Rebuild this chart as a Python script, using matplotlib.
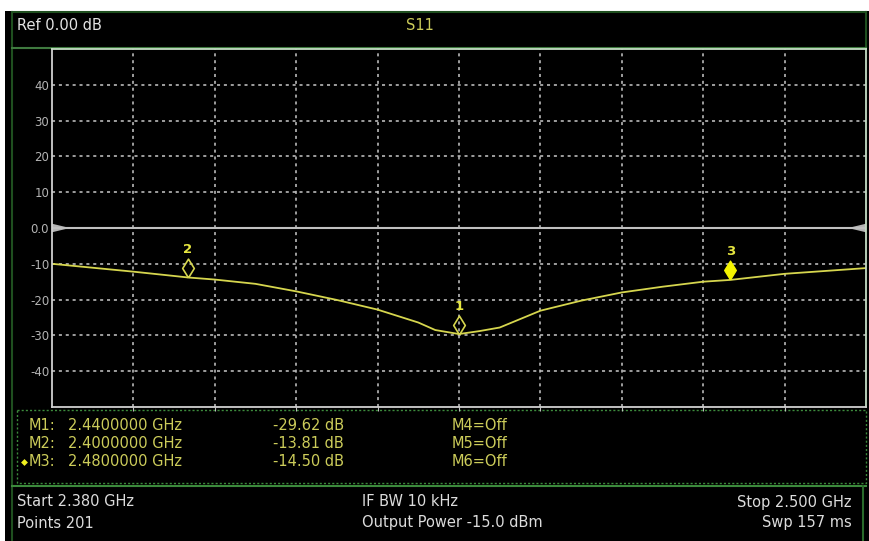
import matplotlib
matplotlib.use("Agg")
import matplotlib.pyplot as plt
from matplotlib.patches import Rectangle, Polygon
from matplotlib.transforms import offset_copy

# trace (GHz, dB)
freq_ghz = [2.380, 2.386, 2.392, 2.398, 2.400, 2.404, 2.410, 2.416, 2.422, 2.428,
            2.434, 2.4365, 2.440, 2.443, 2.446, 2.452, 2.458, 2.464, 2.470, 2.476,
            2.480, 2.488, 2.494, 2.500]
s11_db = [-10.0, -11.1, -12.2, -13.4, -13.81, -14.4, -15.6, -17.7, -20.1, -22.8,
          -26.4, -28.5, -29.62, -28.8, -27.8, -23.1, -20.3, -18.0, -16.4, -15.0,
          -14.50, -12.8, -12.0, -11.2]

marker_ids = ["1", "2", "3"]
marker_freq = [2.440, 2.400, 2.480]
marker_db = [-29.62, -13.81, -14.50]
active_marker = "3"

y_ticks = [40, 30, 20, 10, 0, -10, -20, -30, -40]
y_tick_labels = ["40", "30", "20", "10", "0.0", "-10", "-20", "-30", "-40"]

table_names = ["M1:", "M2:", "M3:"]
table_freq = ["2.4400000 GHz", "2.4000000 GHz", "2.4800000 GHz"]
table_vals = ["-29.62 dB", "-13.81 dB", "-14.50 dB"]
table_off = ["M4=Off", "M5=Off", "M6=Off"]

status_left = ["Start 2.380 GHz", "Points 201"]
status_mid = ["IF BW 10 kHz", "Output Power -15.0 dBm"]
status_right = ["Stop 2.500 GHz", "Swp 157 ms"]

W, H = 870, 541
TRACE = "#d6d64e"
TXT_Y = "#cccc5a"
GREEN = "#2f6a2f"
GREY = "#dcdcdc"

fig = plt.figure(figsize=(W / 100, H / 100), dpi=100, facecolor="white")

# background / frame in pixel coords
bg = fig.add_axes([0, 0, 1, 1])
bg.set_xlim(0, W)
bg.set_ylim(H, 0)
bg.axis("off")
bg.add_patch(Rectangle((5, 11), W - 5, H - 11, facecolor="black", edgecolor="none"))
bg.plot([12, 12], [12, H], color="#1f4f1f", lw=1.5)
bg.plot([12, 866], [12, 12], color="#1f4f1f", lw=1.5)
bg.plot([866, 866], [12, 48], color="#1f4f1f", lw=1.5)
bg.plot([12, 866], [48, 48], color="#3f7a3f", lw=1.5)

bg.text(17, 25, "Ref 0.00 dB", color="#e4e4e4", fontsize=10.5, va="center")
bg.text(406, 26, "S11", color=TXT_Y, fontsize=10.5, va="center")

# marker table box
bg.add_patch(Rectangle((17, 410), 849, 73, facecolor="none", edgecolor="#3c8a3c",
                       lw=1, linestyle=(0, (1.5, 1.5))))
bg.plot([12, 866], [486, 486], color="#3c8a3c", lw=1.5)
bg.plot([863, 863], [486, H], color="#2a6a2a", lw=1.5)

rows = [425, 444, 462]
for i, y in enumerate(rows):
    bg.text(29, y, table_names[i], color=TXT_Y, fontsize=10.5, va="center")
    bg.text(68, y, table_freq[i], color=TXT_Y, fontsize=10.5, va="center")
    bg.text(273, y, table_vals[i], color=TXT_Y, fontsize=10.5, va="center")
    bg.text(452, y, table_off[i], color=TXT_Y, fontsize=10.5, va="center")
bg.plot(24, rows[2], marker="D", ms=3.5, color="#f0f020", mec="none")

for i, y in enumerate([502, 523]):
    bg.text(17, y, status_left[i], color=GREY, fontsize=10.5, va="center")
    bg.text(362, y, status_mid[i], color=GREY, fontsize=10.5, va="center")
    bg.text(852, y, status_right[i], color=GREY, fontsize=10.5, va="center", ha="right")

# trace area
x0, x1, y0, y1 = 52, 866, 49, 407
ax = fig.add_axes([x0 / W, 1 - y1 / H, (x1 - x0) / W, (y1 - y0) / H])
ax.set_facecolor("black")
ax.set_xlim(2.38, 2.50)
ax.set_ylim(-50, 50)
for s in ["left", "bottom"]:
    ax.spines[s].set_color("#d0d0d0")
for s in ["top", "right"]:
    ax.spines[s].set_color("#c4dcc4")
for s in ax.spines.values():
    s.set_linewidth(1.3)

ax.set_xticks([2.38 + 0.012 * k for k in range(1, 10)])
ax.set_xticklabels([])
ax.set_yticks(y_ticks)
ax.set_yticklabels(y_tick_labels)
ax.tick_params(axis="y", colors="#b4b4b4", labelsize=8.5, length=0, pad=2)
ax.tick_params(axis="x", length=3, color="#c0c0c0", direction="out")
ax.grid(True, color="#c8c8c8", linestyle=(0, (2, 2.5)), linewidth=1.1)
for gl, t in zip(ax.get_ygridlines(), ax.get_yticks()):
    if t == 0:
        gl.set_visible(False)
ax.axhline(0, color="#c0c0c0", lw=1.5)

# reference triangles
tl = ax.transAxes
ax.add_patch(Polygon([(0, 0.5 + 0.012), (0, 0.5 - 0.012), (0.022, 0.5)], closed=True,
                     transform=tl, facecolor="#b4b4b4", edgecolor="none", clip_on=False))
ax.add_patch(Polygon([(1, 0.5 + 0.012), (1, 0.5 - 0.012), (0.978, 0.5)], closed=True,
                     transform=tl, facecolor="#b4b4b4", edgecolor="none", clip_on=False))

ax.plot(freq_ghz, s11_db, color=TRACE, lw=1.3)

diamond = [(0, -1), (0.62, 0), (0, 1), (-0.62, 0), (0, -1)]
mk_tr = offset_copy(ax.transData, fig=fig, x=0, y=9.5, units="dots")
lb_tr = offset_copy(ax.transData, fig=fig, x=0, y=28, units="dots")
for mid, f, v in zip(marker_ids, marker_freq, marker_db):
    if mid == active_marker:
        ax.plot(f, v, marker=diamond, ms=13.5, color="#f4f400", mec="#f4f400",
                transform=mk_tr)
    else:
        ax.plot(f, v, marker=diamond, ms=13.5, mfc="none", mec=TRACE, mew=1.2,
                transform=mk_tr)
    ax.text(f, v, mid, color="#e6e640", fontsize=9.5, fontweight="bold",
            ha="center", va="center", transform=lb_tr)

fig.savefig("out.png", dpi=100, facecolor="white")
